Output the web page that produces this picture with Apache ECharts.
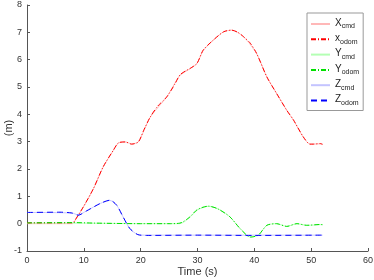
<!DOCTYPE html>
<html>
<head>
<meta charset="utf-8">
<script src="https://cdn.jsdelivr.net/npm/echarts@6/dist/echarts.min.js"></script>
<style>
  html, body { margin: 0; padding: 0; background: #fff; }
  #chart { width: 374px; height: 280px; }
</style>
</head>
<body>
<div id="chart"></div>
<script>
// [time (s), value (m)] pairs
var xCmd = [[0,0],[8,0],[8.2,0.03],[9.9,0.6],[11.7,1.28],[13.4,2.07],[15.2,2.68],[16.1,2.95],[17.3,2.99],[18.4,2.92],[19.6,3.0],[21.7,3.9],[24.6,4.64],[26.9,5.42],[28.7,5.67],[29.9,5.86],[31,6.33],[32.8,6.72],[34.6,7.02],[36,7.08],[38.1,6.84],[40.4,6.22],[42.2,5.37],[43.9,4.77],[45.7,4.15],[46.9,3.78],[48.6,3.17],[49.8,2.91],[51.6,2.92],[52,2.92]];
var xOdom = [[0,0.03],[8,0.03],[8.2,0.05],[9.9,0.61],[11.7,1.29],[13.4,2.08],[15.2,2.69],[16.1,2.96],[17.3,2.99],[18.4,2.91],[19.6,2.99],[20.5,3.4],[21.7,3.91],[23,4.3],[24.6,4.64],[26,5.1],[26.9,5.44],[28,5.6],[28.7,5.68],[29.9,5.86],[31,6.35],[32.8,6.72],[34.6,7.02],[36,7.08],[37.1,7.0],[38.1,6.84],[39.3,6.6],[40.4,6.23],[42.2,5.37],[43.9,4.77],[45.7,4.15],[46.9,3.79],[48.6,3.18],[49.8,2.91],[50.4,2.91],[51.6,2.93],[52,2.9]];
var yCmd = [[0,0.02],[10,0.02],[20,0],[26.9,0],[28.5,0.2],[30,0.5],[32,0.64],[34,0.5],[35.7,0.25],[37.5,-0.18],[39.3,-0.49],[40.7,-0.42],[42.2,-0.06],[43.9,0],[45.7,-0.1],[47.5,0],[49.2,-0.06],[52,-0.03]];
var yOdom = [[0,0.03],[8,0.04],[12,0.02],[20,0.0],[25,0.0],[26.9,0.02],[28.5,0.22],[30,0.52],[31.9,0.64],[33.5,0.55],[35.7,0.25],[37.5,-0.18],[39.3,-0.49],[40.7,-0.42],[42.2,-0.06],[43.9,0],[45.7,-0.1],[47.5,0],[49.2,-0.06],[51.6,-0.03],[52,-0.04]];
var zCmd = [[0,0.41],[7.9,0.39],[9,0.32],[10.5,0.47],[12.9,0.74],[14.6,0.85],[15.8,0.67],[16.9,0.25],[18.1,-0.18],[19.5,-0.4],[21,-0.42],[52,-0.42]];
var zOdom = [[0,0.41],[5.8,0.42],[7.9,0.39],[9,0.31],[10.5,0.47],[12.9,0.74],[14.6,0.86],[15.8,0.67],[16.9,0.25],[18.1,-0.18],[19.5,-0.4],[21,-0.43],[30,-0.42],[40,-0.43],[52,-0.42]];

var seriesNames = ['X_cmd', 'x_odom', 'Y_cmd', 'Y_odom', 'Z_cmd', 'Z_odom'];
var seriesColors = ['#ffb8b8', '#ff0000', '#b4ffb4', '#00e000', '#c4c4ff', '#0000ff'];
var seriesDash = ['solid', [5, 2, 1, 2], 'solid', [5, 2, 1, 2], 'solid', [6, 4]];
var seriesData = [xCmd, xOdom, yCmd, yOdom, zCmd, zOdom];

var myChart = echarts.init(document.getElementById('chart'));

var series = seriesNames.map(function (n, i) {
  return {
    name: n,
    type: 'line',
    data: seriesData[i],
    showSymbol: false,
    symbol: 'none',
    smooth: 0.25,
    lineStyle: { color: seriesColors[i], width: 1, type: seriesDash[i] },
    itemStyle: { color: seriesColors[i] },
    z: i % 2 === 0 ? 2 : 3
  };
});

myChart.setOption({
  animation: false,
  textStyle: { fontFamily: 'Liberation Sans' },
  grid: { left: 27, right: 6, top: 5, bottom: 29, outerBoundsMode: 'none', containLabel: false },
  legend: {
    orient: 'vertical',
    left: 307,
    top: 13,
    padding: [4, 4, 4, 3],
    itemWidth: 19,
    itemHeight: 12,
    itemGap: 2.3,
    borderColor: '#999',
    borderWidth: 1,
    backgroundColor: '#fff',
    itemStyle: { opacity: 0 },
    data: seriesNames,
    formatter: function (name) {
      var p = name.split('_');
      return '{m|' + p[0] + '}{s|' + p[1] + '}';
    },
    textStyle: {
      rich: {
        m: { fontSize: 10, color: '#222', lineHeight: 12, verticalAlign: 'top' },
        s: { fontSize: 7, color: '#222', lineHeight: 12, verticalAlign: 'bottom', padding: [6, 0, 0, 0] }
      }
    }
  },
  xAxis: {
    type: 'value',
    min: 0,
    max: 60,
    interval: 10,
    name: 'Time (s)',
    nameLocation: 'middle',
    nameGap: 15,
    nameMoveOverlap: false,
    nameTextStyle: { fontSize: 11, color: '#333', verticalAlign: 'top' },
    axisLine: { onZero: false, lineStyle: { color: '#555' } },
    axisTick: { inside: true, length: 3, lineStyle: { color: '#555' } },
    axisLabel: { fontSize: 9, color: '#333', margin: 5 },
    splitLine: { show: false }
  },
  yAxis: {
    type: 'value',
    min: -1,
    max: 8,
    interval: 1,
    name: '(m)',
    nameLocation: 'middle',
    nameGap: 13,
    nameMoveOverlap: false,
    nameTextStyle: { fontSize: 11, color: '#333' },
    axisLine: { show: true, lineStyle: { color: '#555' } },
    axisTick: { show: true, inside: true, length: 3, lineStyle: { color: '#555' } },
    axisLabel: { fontSize: 9, color: '#333', margin: 5 },
    splitLine: { show: false }
  },
  series: series
});
</script>
</body>
</html>
